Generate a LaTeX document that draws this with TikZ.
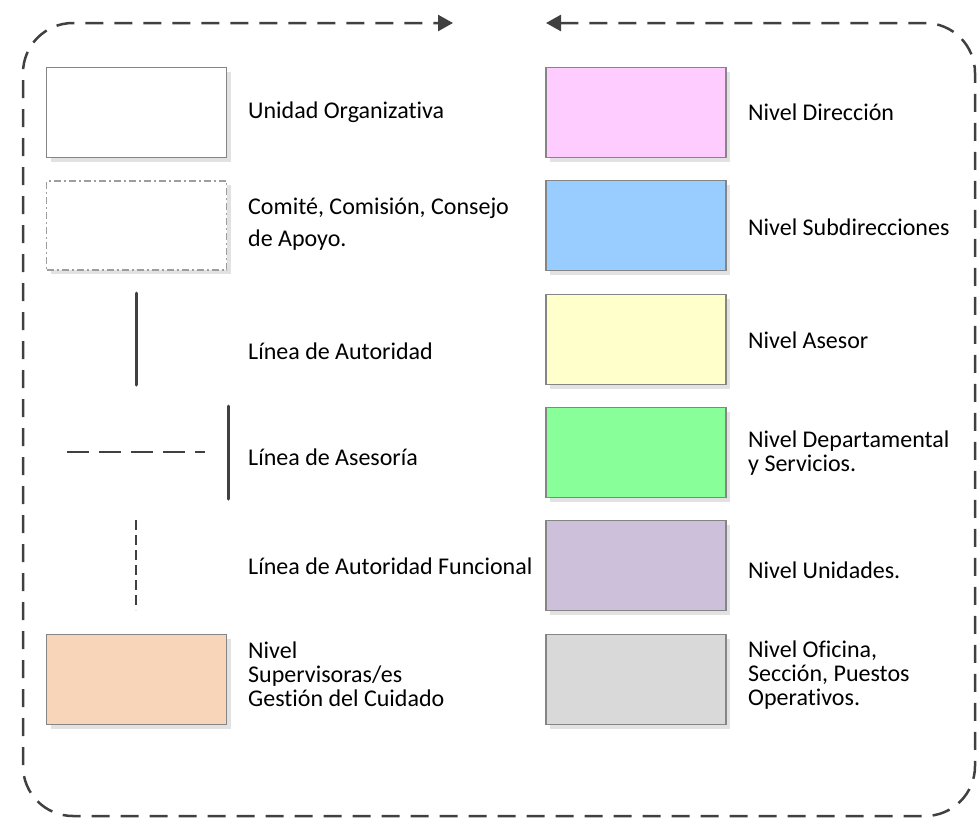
\documentclass[tikz,border=0pt]{standalone}
\usepackage{fontspec}
\setmainfont{Carlito}[Ligatures=NoCommon]
\usetikzlibrary{arrows.meta,shadows}
\definecolor{dk}{HTML}{404040}
\definecolor{bd}{HTML}{858585}
\definecolor{shd}{HTML}{E2E2E2}
\definecolor{cpink}{HTML}{FFCCFF}
\definecolor{cblue}{HTML}{99CCFF}
\definecolor{cyel}{HTML}{FFFFCC}
\definecolor{cgreen}{HTML}{88FF99}
\definecolor{clav}{HTML}{CCC0DA}
\definecolor{cgrey}{HTML}{D9D9D9}
\definecolor{cpeach}{HTML}{F8D5B8}
\tikzset{
  legbox/.style={draw=bd, line width=1.5pt, minimum width=180pt, minimum height=90pt, inner sep=0pt,
    drop shadow={shadow xshift=4pt, shadow yshift=-4pt, fill=shd, opacity=1}},
  lab/.style={anchor=west, align=left, inner sep=0pt, font=\fontsize{24}{24}\selectfont},
  solidln/.style={draw=dk, line width=3pt, line cap=round},
  outer/.style={draw=dk, line width=2.5pt, dash pattern=on 18pt off 11pt, rounded corners=50pt,
    {Triangle[length=15pt,width=16pt]}-{Triangle[length=15pt,width=16pt]}}
}
\begin{document}
\begin{tikzpicture}[x=1pt,y=-1pt]
\useasboundingbox (0,0) rectangle (979,827);
% outer frame
\coordinate (fr1) at (546,23);
\coordinate (fr2) at (975,23);
\coordinate (fr3) at (975,816);
\coordinate (fr4) at (23,816);
\coordinate (fr5) at (23,23);
\coordinate (fr6) at (453,23);
\draw[outer] (fr1) -- (fr2) -- (fr3) -- (fr4) -- (fr5) -- (fr6);
% left column
\node[legbox, fill=white] (uo) at (136.5,112.5) {};
\node[lab] (tuo) at (248,112) {Unidad Organizativa};
\node[draw=bd!80, line width=1.5pt, dash pattern=on 7pt off 3pt on 2pt off 3pt, minimum width=180pt, minimum height=89pt, inner sep=0pt, fill=white,
  drop shadow={shadow xshift=4pt, shadow yshift=-4pt, fill=shd, opacity=1}] (com) at (136.5,225.5) {};
\node[lab, font=\fontsize{24}{32}\selectfont] (tcom) at (248,224) {Comité, Comisión, Consejo\\de Apoyo.};
\coordinate (la1) at (136,293);
\coordinate (la2) at (136,385);
\draw[solidln] (la1) -- (la2);
\node[lab] (tla) at (248,351) {Línea de Autoridad};
\coordinate (as1) at (67,452);
\coordinate (as2) at (205,452);
\coordinate (as3) at (228,406);
\coordinate (as4) at (228,499);
\draw[draw=dk, line width=2.2pt, dash pattern=on 22pt off 10pt] (as1) -- (as2);
\draw[solidln] (as3) -- (as4);
\node[lab] (tas) at (248,457) {Línea de Asesoría};
\coordinate (fu1) at (136,520);
\coordinate (fu2) at (136,610);
\draw[draw=dk, line width=2.2pt, dash pattern=on 10pt off 5pt] (fu1) -- (fu2);
\node[lab] (tfu) at (248,566) {Línea de Autoridad Funcional};
\node[legbox, fill=cpeach] (sup) at (136.5,679.5) {};
\node[lab] (tsup) at (248,674) {Nivel\\Supervisoras/es\\Gestión del Cuidado};
% right column
\node[legbox, fill=cpink] (dir) at (636,112.5) {};
\node[lab] (tdir) at (748,112) {Nivel Dirección};
\node[legbox, fill=cblue] (sub) at (636,225.5) {};
\node[lab] (tsub) at (748,227) {Nivel Subdirecciones};
\node[legbox, fill=cyel] (ase) at (636,339.5) {};
\node[lab] (tase) at (748,340) {Nivel Asesor};
\node[legbox, fill=cgreen] (dep) at (636,452.5) {};
\node[lab] (tdep) at (748,453) {Nivel Departamental\\y Servicios.};
\node[legbox, fill=clav] (uni) at (636,565.5) {};
\node[lab] (tuni) at (748,570) {Nivel Unidades.};
\node[legbox, fill=cgrey] (ofi) at (636,679.5) {};
\node[lab] (tofi) at (748,675) {Nivel Oficina,\\Sección, Puestos\\Operativos.};
\end{tikzpicture}
\end{document}
